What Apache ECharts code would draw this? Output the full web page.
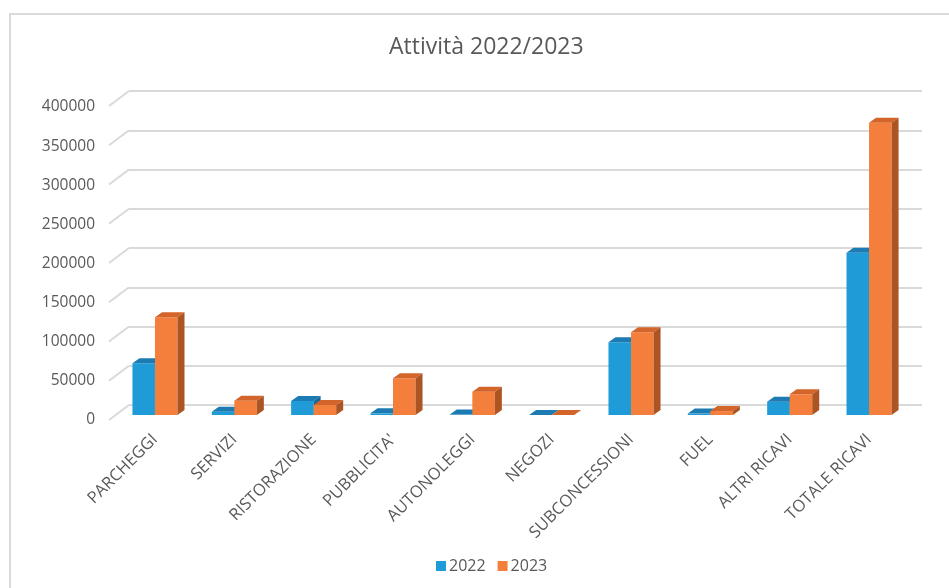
<!DOCTYPE html>
<html>
<head>
<meta charset="utf-8">
<script src="https://cdn.jsdelivr.net/npm/echarts@6/dist/echarts.min.js"></script>
<style>
html,body{margin:0;padding:0;background:#fff;}
#frame{position:absolute;left:9px;top:13px;width:960px;height:600px;border-left:2px solid #d9d9d9;border-top:2px solid #d9d9d9;}
#chart{position:absolute;left:0;top:0;width:949px;height:588px;}
</style>
</head>
<body>
<div id="frame"></div>
<div id="chart"></div>
<script>
// ---- data ----
const categories = ['PARCHEGGI', 'SERVIZI', 'RISTORAZIONE', "PUBBLICITA'", 'AUTONOLEGGI', 'NEGOZI', 'SUBCONCESSIONI', 'FUEL', 'ALTRI RICAVI', 'TOTALE RICAVI'];
const values2022 = [66000, 4200, 17800, 2100, 500, 0, 92600, 1800, 17000, 206700];
const values2023 = [124500, 18200, 12700, 46800, 29700, 0, 105300, 5000, 26400, 372400];
const seriesNames = ['2022', '2023'];
const yTicks = [0, 50000, 100000, 150000, 200000, 250000, 300000, 350000, 400000];

const FONT = 'Open Sans';
const TXT = '#595959';
const DX = 7, DY = -5;

const palette = {
  '2022': { front: '#1F9CD8', top: '#1C7BB2', side: '#17679A' },
  '2023': { front: '#F47F3C', top: '#D4652A', side: '#AD5423' }
};

function barRenderer(side, col) {
  return function (params, api) {
    const i = api.value(0), v = api.value(1);
    const base = api.coord([i, 0]);
    const top = api.coord([i, v]);
    const band = api.size([1, 0])[0];
    const w = band * 0.284;
    const x0 = side < 0 ? base[0] - w : base[0];
    const x1 = x0 + w;
    const yt = top[1], yb = base[1];
    return {
      type: 'group',
      children: [
        { type: 'rect', shape: { x: x0, y: yt, width: w, height: yb - yt }, style: { fill: col.front } },
        { type: 'polygon', shape: { points: [[x0, yt], [x1, yt], [x1 + DX, yt + DY], [x0 + DX, yt + DY]] }, style: { fill: col.top } },
        { type: 'polygon', shape: { points: [[x1, yt], [x1 + DX, yt + DY], [x1 + DX, yb + DY], [x1, yb]] }, style: { fill: col.side } }
      ]
    };
  };
}

const chart = echarts.init(document.getElementById('chart'), null, { renderer: 'canvas' });
chart.setOption({
  animation: false,
  backgroundColor: 'transparent',
  title: {
    text: 'Attività 2022/2023',
    left: 384, top: 31,
    textStyle: { fontFamily: FONT, fontSize: 23, fontWeight: 'normal', color: TXT }
  },
  legend: {
    data: seriesNames,
    left: 436, top: 558, padding: 0,
    icon: 'rect', itemWidth: 10, itemHeight: 10, itemGap: 12,
    textStyle: { fontFamily: FONT, fontSize: 16, color: TXT, padding: [0, 0, 0, -2] }
  },
  grid: [
    { left: 115.3, right: 40.3, top: 101, bottom: 173 },   // bar plane
    { left: 129, right: 27, top: 91, bottom: 183 },        // back wall
    { left: 109, right: 47, top: 107, bottom: 168 }        // front plane (labels)
  ],
  xAxis: [
    { gridIndex: 0, type: 'category', data: categories,
      axisLine: { show: false }, axisTick: { show: false },
      axisLabel: { rotate: 45, margin: 22, interval: 0, fontFamily: FONT, fontSize: 16.5, color: TXT } },
    { gridIndex: 1, type: 'category', data: categories, show: false },
    { gridIndex: 2, type: 'category', data: categories, show: false }
  ],
  yAxis: [
    { gridIndex: 0, type: 'value', min: 0, max: 400000, interval: 50000, show: false },
    { gridIndex: 1, type: 'value', min: 0, max: 400000, interval: 50000,
      axisLine: { show: false }, axisTick: { show: false }, axisLabel: { show: false },
      splitLine: { show: true, lineStyle: { color: '#d9d9d9', width: 2 } } },
    { gridIndex: 2, type: 'value', min: 0, max: 400000, interval: 50000,
      axisLine: { show: false }, axisTick: { show: false }, splitLine: { show: false },
      axisLabel: { margin: 14, fontFamily: FONT, fontSize: 15.5, color: TXT, formatter: v => String(v) } }
  ],
  series: [
    {
      type: 'custom', name: 'diagonals', xAxisIndex: 1, yAxisIndex: 1, silent: true,
      data: yTicks.map(v => [0, v]),
      renderItem: function (params, api) {
        const p = api.coord([0, api.value(1)]);
        const x = params.coordSys.x;
        return { type: 'line', shape: { x1: x - 20, y1: p[1] + 15, x2: x, y2: p[1] }, style: { stroke: '#d9d9d9', lineWidth: 2 } };
      },
      z: 1
    },
    {
      type: 'custom', name: '2022', xAxisIndex: 0, yAxisIndex: 0,
      itemStyle: { color: palette['2022'].front },
      data: values2022.map((v, i) => [i, v]),
      renderItem: barRenderer(-1, palette['2022']), z: 2
    },
    {
      type: 'custom', name: '2023', xAxisIndex: 0, yAxisIndex: 0,
      itemStyle: { color: palette['2023'].front },
      data: values2023.map((v, i) => [i, v]),
      renderItem: barRenderer(1, palette['2023']), z: 3
    }
  ]
});
</script>
</body>
</html>
